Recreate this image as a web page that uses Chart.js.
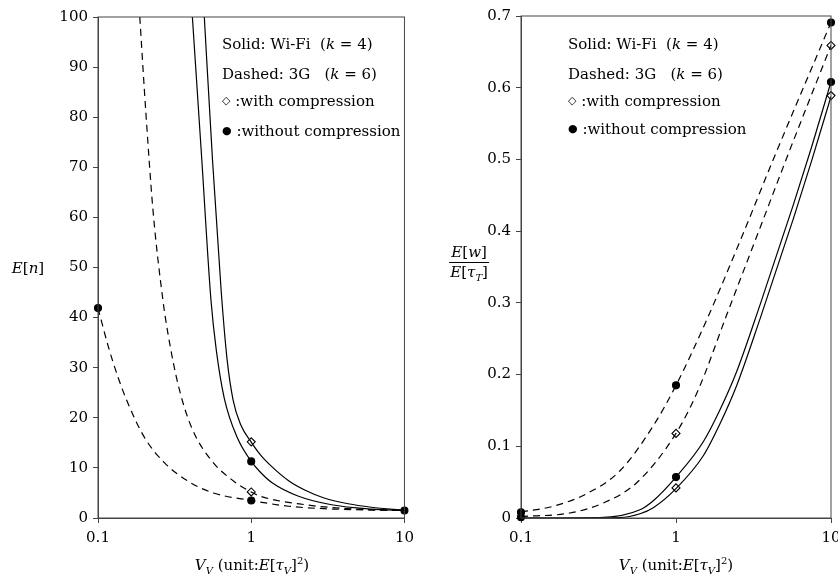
<!DOCTYPE html>
<html lang="en">
<head>
    <meta charset="UTF-8">
    <title>E[n] and E[w]/E[tau_T] vs V_V</title>
    <script src="https://cdn.jsdelivr.net/npm/chart.js"></script>
    <style>
        body {
            margin: 0;
            overflow: hidden;
            background: #fff;
            font-family: "DejaVu Serif", serif;
            color: #000;
        }
        .wrap {
            position: relative;
            width: 838px;
            height: 579px;
            overflow: hidden;
        }
        .panel {
            position: absolute;
            top: 0;
        }
        .txt {
            position: absolute;
            font-size: 15px;
            white-space: pre;
            line-height: 1;
        }
        .ctr {
            transform: translate(-50%, -50%);
        }
        .frac {
            display: inline-block;
            text-align: center;
        }
        .frac span {
            display: block;
            padding: 0 1px;
        }
        .frac .num {
            border-bottom: 1px solid #000;
            padding-bottom: 2px;
        }
        .frac .den {
            padding-top: 2px;
        }
        .mark {
            font-size: 11px;
            vertical-align: 2px;
        }
        sub, sup {
            font-size: 10px;
        }
    </style>
</head>
<body>

<div class="wrap">
    <div class="panel" style="left:0"><canvas id="leftChart" width="420" height="579"></canvas></div>
    <div class="panel" style="left:420px"><canvas id="rightChart" width="440" height="579"></canvas></div>

    <!-- left panel texts -->
    <div class="txt" style="left:222px; top:37px">Solid: Wi-Fi  (<i>k</i> = 4)</div>
    <div class="txt" style="left:222px; top:67px">Dashed: 3G   (<i>k</i> = 6)</div>
    <div class="txt" style="left:222px; top:94px"><span class="mark">◇</span> :with compression</div>
    <div class="txt" style="left:222px; top:124px"><span class="mark">●</span> :without compression</div>
    <div class="txt ctr" style="left:28px; top:268px"><i>E</i>[<i>n</i>]</div>
    <div class="txt ctr" style="left:252px; top:566px"><i>V<sub>V</sub></i> (unit:<i>E</i>[<i>τ<sub>V</sub></i>]<sup>2</sup>)</div>

    <!-- right panel texts -->
    <div class="txt" style="left:568px; top:37px">Solid: Wi-Fi  (<i>k</i> = 4)</div>
    <div class="txt" style="left:568px; top:67px">Dashed: 3G   (<i>k</i> = 6)</div>
    <div class="txt" style="left:568px; top:94px"><span class="mark">◇</span> :with compression</div>
    <div class="txt" style="left:568px; top:122px"><span class="mark">●</span> :without compression</div>
    <div class="txt ctr" style="left:450px; top:264px">
        <span class="frac"><span class="num"><i>E</i>[<i>w</i>]</span><span class="den"><i>E</i>[<i>τ<sub>T</sub></i>]</span></span>
    </div>
    <div class="txt ctr" style="left:676px; top:566px"><i>V<sub>V</sub></i> (unit:<i>E</i>[<i>τ<sub>V</sub></i>]<sup>2</sup>)</div>
</div>

<script>
    // x ticks (log axis) and y ticks for both panels
    const xTicks = [0.1, 1, 10];
    const leftYTicks = [0, 10, 20, 30, 40, 50, 60, 70, 80, 90, 100];
    const rightYTicks = [0, 0.1, 0.2, 0.3, 0.4, 0.5, 0.6, 0.7];

    // left panel: E[n]
    const nWifiCompX = [0.494, 0.559, 0.636, 0.696, 0.761, 0.854, 1, 1.156, 1.368, 1.754, 2.25, 2.958, 4.295, 6.077, 10];
    const nWifiCompY = [100, 71.4, 45.5, 31.6, 23.6, 18.6, 15.15, 12.5, 10.2, 7.44, 5.54, 4.05, 2.85, 2.15, 1.5];
    const nWifiX = [0.413, 0.476, 0.546, 0.591, 0.666, 0.812, 1, 1.156, 1.368, 2.037, 3.347, 6.077, 10];
    const nWifiY = [100, 71.4, 43.5, 33.6, 24.0, 16.0, 11.3, 9.03, 7.04, 4.35, 2.65, 1.79, 1.5];
    const n3gCompX = [0.1874, 0.2048, 0.2284, 0.2652, 0.2858, 0.3317, 0.405, 0.546, 0.773, 1, 1.122, 2.25, 4.745, 10];
    const n3gCompY = [100, 81.4, 61.5, 43.5, 36.9, 26.9, 18.3, 11.6, 7.3, 5.18, 4.45, 2.65, 1.79, 1.5];
    const n3gX = [0.1, 0.1168, 0.1355, 0.1573, 0.2018, 0.272, 0.405, 0.5733, 1, 1.754, 3.698, 10];
    const n3gY = [41.9, 34.2, 28.0, 22.8, 16.0, 11.0, 6.98, 4.94, 3.5, 2.35, 1.75, 1.5];

    const nDiamonds = [[1, 15.2], [1, 5.2]];
    const nDots = [[0.1, 41.9], [1, 11.3], [1, 3.5], [10, 1.5]];

    // right panel: E[w]/E[tau_T]
    const w3gX = [0.1, 0.1616, 0.2653, 0.4352, 0.7138, 1, 1.578, 2.718, 4.243, 10];
    const w3gY = [0.0084, 0.0164, 0.0339, 0.0659, 0.1286, 0.185, 0.2763, 0.3972, 0.500, 0.691];
    const w3gCompX = [0.1, 0.207, 0.3396, 0.5577, 1, 1.393, 2.124, 3.484, 5.302, 10];
    const w3gCompY = [0.002, 0.007, 0.0209, 0.0492, 0.118, 0.1788, 0.2833, 0.4045, 0.5077, 0.659];
    const wWifiX = [0.1, 0.3234, 0.5857, 0.7138, 1, 1.5, 1.922, 2.46, 3.484, 5.712, 7.497, 10];
    const wWifiY = [0, 0.0007, 0.0116, 0.0241, 0.057, 0.1063, 0.1509, 0.2039, 0.2972, 0.4366, 0.5174, 0.608];
    const wWifiCompX = [0.1, 0.4352, 0.5857, 0.7138, 1, 1.5, 1.922, 2.46, 3.484, 5.712, 7.497, 10];
    const wWifiCompY = [0, 0.0007, 0.006, 0.0144, 0.041, 0.0868, 0.1314, 0.1844, 0.2777, 0.4171, 0.4979, 0.588];

    const wDiamonds = [[1, 0.118], [1, 0.042], [10, 0.659], [10, 0.589]];
    const wDots = [[0.1, 0.008], [0.1, 0.001], [1, 0.185], [1, 0.057], [10, 0.691], [10, 0.608]];

    const tickFont = { family: 'DejaVu Serif', size: 15 };

    function pairs(xs, ys) {
        return xs.map((x, i) => ({ x: x, y: ys[i] }));
    }

    function curve(xs, ys, dashed) {
        return {
            type: 'line',
            data: pairs(xs, ys),
            borderColor: '#000',
            borderWidth: 1.2,
            borderDash: dashed ? [7, 5] : [],
            pointRadius: 0,
            fill: false,
            cubicInterpolationMode: 'monotone'
        };
    }

    function markers(list, diamond) {
        return {
            type: 'scatter',
            data: list.map(p => ({ x: p[0], y: p[1] })),
            pointStyle: diamond ? 'rectRot' : 'circle',
            pointRadius: diamond ? 4 : 3.5,
            pointBackgroundColor: diamond ? '#fff' : '#000',
            pointBorderColor: '#000',
            pointBorderWidth: 1.1,
            showLine: false,
            clip: false
        };
    }

    // box around the plot area
    const framePlugin = {
        id: 'frame',
        afterDraw(chart) {
            const a = chart.chartArea;
            const ctx = chart.ctx;
            ctx.save();
            ctx.strokeStyle = '#444';
            ctx.lineWidth = 1;
            ctx.strokeRect(a.left, a.top, a.right - a.left, a.bottom - a.top);
            ctx.restore();
        }
    };

    function makeChart(id, datasets, yTicks, yMax, yWidth, pad) {
        new Chart(document.getElementById(id), {
            type: 'line',
            data: { datasets: datasets },
            plugins: [framePlugin],
            options: {
                responsive: false,
                animation: false,
                layout: { padding: pad },
                plugins: { legend: { display: false }, tooltip: { enabled: false } },
                scales: {
                    x: {
                        type: 'logarithmic',
                        min: 0.1,
                        max: 10,
                        afterBuildTicks: s => { s.ticks = xTicks.map(v => ({ value: v })); },
                        afterFit: s => { s.height = 61; },
                        grid: { drawOnChartArea: false, tickLength: 5, color: '#444' },
                        border: { color: '#444' },
                        ticks: {
                            color: '#000',
                            font: tickFont,
                            padding: 6,
                            maxRotation: 0,
                            callback: v => String(v)
                        }
                    },
                    y: {
                        type: 'linear',
                        min: 0,
                        max: yMax,
                        afterBuildTicks: s => { s.ticks = yTicks.map(v => ({ value: v })); },
                        afterFit: s => { s.width = yWidth; },
                        grid: { drawOnChartArea: false, tickLength: 5, color: '#444' },
                        border: { color: '#444' },
                        ticks: {
                            color: '#000',
                            font: tickFont,
                            padding: 5,
                            callback: v => String(v)
                        }
                    }
                }
            }
        });
    }

    makeChart('leftChart', [
        curve(nWifiCompX, nWifiCompY, false),
        curve(nWifiX, nWifiY, false),
        curve(n3gCompX, n3gCompY, true),
        curve(n3gX, n3gY, true),
        markers(nDiamonds, true),
        markers(nDots, false)
    ], leftYTicks, 100, 98, { top: 17, right: 13, left: 0, bottom: 0 });

    makeChart('rightChart', [
        curve(w3gX, w3gY, true),
        curve(w3gCompX, w3gCompY, true),
        curve(wWifiX, wWifiY, false),
        curve(wWifiCompX, wWifiCompY, false),
        markers(wDiamonds, true),
        markers(wDots, false)
    ], rightYTicks, 0.7, 101, { top: 16, right: 29, left: 0, bottom: 0 });
</script>
</body>
</html>
